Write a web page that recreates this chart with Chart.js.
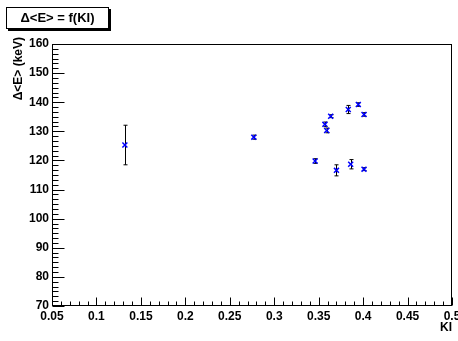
<!DOCTYPE html>
<html>
<head>
<meta charset="utf-8">
<script src="https://cdn.jsdelivr.net/npm/chart.js@4/dist/chart.umd.min.js"></script>
<style>
  html, body { margin: 0; padding: 0; background: #fff; }
  #wrap { width: 458px; height: 341px; position: relative; }
</style>
</head>
<body>
<div id="wrap"><canvas id="c" width="458" height="341"></canvas></div>
<script>
// valeurs
const kiValues = [0.132, 0.277, 0.346, 0.357, 0.359, 0.3635, 0.370, 0.3833, 0.386, 0.3946, 0.401, 0.401];
const deltaE   = [125.3, 128.0, 119.8, 132.4, 130.3, 135.2, 116.6, 137.5, 118.7, 139.2, 135.8, 117.0];
const deltaErr = [6.8,   0.7,   0.8,   0.8,   0.8,   0.5,   1.9,   1.4,   1.6,   0.6,   0.6,   0.5];

const xTicks = [0.05, 0.1, 0.15, 0.2, 0.25, 0.3, 0.35, 0.4, 0.45, 0.5];
const yTicks = [70, 80, 90, 100, 110, 120, 130, 140, 150, 160];

const titleText = 'Δ<E> = f(KI)';
const xTitle = 'KI';
const yTitle = 'Δ<E> (keV)';

const FONT = '"Liberation Sans", Arial, sans-serif';

const points = kiValues.map((x, i) => ({ x, y: deltaE[i] }));

// barres d'erreur, cadre et graduations façon ROOT
const rootStyle = {
  id: 'rootStyle',
  beforeDatasetsDraw(chart) {
    const ctx = chart.ctx;
    const xs = chart.scales.x, ys = chart.scales.y;
    ctx.save();
    ctx.strokeStyle = '#000';
    ctx.lineWidth = 1;
    kiValues.forEach((k, i) => {
      const px = Math.round(xs.getPixelForValue(k)) + 0.5;
      const top = ys.getPixelForValue(deltaE[i] + deltaErr[i]);
      const bot = ys.getPixelForValue(deltaE[i] - deltaErr[i]);
      ctx.beginPath();
      ctx.moveTo(px, top); ctx.lineTo(px, bot);
      ctx.moveTo(px - 2, top); ctx.lineTo(px + 2, top);
      ctx.moveTo(px - 2, bot); ctx.lineTo(px + 2, bot);
      ctx.stroke();
    });
    ctx.restore();
  },
  afterDraw(chart) {
    const ctx = chart.ctx;
    const a = chart.chartArea;
    const xs = chart.scales.x, ys = chart.scales.y;
    ctx.save();
    ctx.strokeStyle = '#000';
    ctx.lineWidth = 1;
    const L = Math.round(a.left) + 0.5, R = Math.round(a.right) - 0.5;
    const T = Math.round(a.top) + 0.5, B = Math.round(a.bottom) - 0.5;
    ctx.strokeRect(L, T, R - L, B - T);

    // graduations X (5 sous-divisions)
    ctx.beginPath();
    for (let i = 0; i < xTicks.length; i++) {
      const px = Math.round(xs.getPixelForValue(xTicks[i])) + 0.5;
      ctx.moveTo(px, B); ctx.lineTo(px, B - 8);
      if (i < xTicks.length - 1) {
        const step = (xTicks[i + 1] - xTicks[i]) / 5;
        for (let j = 1; j < 5; j++) {
          const mx = Math.round(xs.getPixelForValue(xTicks[i] + j * step)) + 0.5;
          ctx.moveTo(mx, B); ctx.lineTo(mx, B - 4);
        }
      }
    }
    // graduations Y (6 sous-divisions)
    for (let i = 0; i < yTicks.length; i++) {
      const py = Math.round(ys.getPixelForValue(yTicks[i])) + 0.5;
      ctx.moveTo(L, py); ctx.lineTo(L + 12, py);
      if (i < yTicks.length - 1) {
        const step = (yTicks[i + 1] - yTicks[i]) / 6;
        for (let j = 1; j < 6; j++) {
          const my = Math.round(ys.getPixelForValue(yTicks[i] + j * step)) + 0.5;
          ctx.moveTo(L, my); ctx.lineTo(L + 6, my);
        }
      }
    }
    ctx.stroke();

    // titres des axes
    ctx.fillStyle = '#000';
    ctx.font = 'bold 12px ' + FONT;
    ctx.textAlign = 'right';
    ctx.textBaseline = 'middle';
    ctx.fillText(xTitle, a.right, 328);
    ctx.save();
    ctx.translate(19, 37);
    ctx.rotate(-Math.PI / 2);
    ctx.textAlign = 'right';
    ctx.fillText(yTitle, 0, 0);
    ctx.restore();

    // boîte de titre avec ombre
    ctx.fillStyle = '#000';
    ctx.fillRect(8, 9, 103, 22);
    ctx.fillStyle = '#fff';
    ctx.fillRect(6, 7, 103, 22);
    ctx.strokeRect(6.5, 7.5, 102, 21);
    ctx.fillStyle = '#000';
    ctx.font = 'bold 13px ' + FONT;
    ctx.textAlign = 'center';
    ctx.fillText(titleText, 57.5, 18.5);
    ctx.restore();
  }
};

const noPad = s => { s.paddingLeft = 0; s.paddingRight = 0; s.paddingTop = 0; s.paddingBottom = 0; };

new Chart(document.getElementById('c'), {
  type: 'scatter',
  data: {
    datasets: [{
      data: points,
      pointStyle: 'crossRot',
      radius: 3.5,
      hoverRadius: 3.5,
      borderColor: '#0000ff',
      backgroundColor: '#0000ff',
      borderWidth: 1.5
    }]
  },
  options: {
    responsive: false,
    animation: false,
    events: [],
    layout: { padding: { top: 44, right: 6, left: 0, bottom: 0 } },
    plugins: { legend: { display: false }, tooltip: { enabled: false } },
    scales: {
      x: {
        type: 'linear', min: 0.05, max: 0.5,
        afterBuildTicks: s => { s.ticks = xTicks.map(v => ({ value: v })); },
        afterFit: s => { s.height = 35; noPad(s); },
        grid: { display: false, drawTicks: false },
        border: { display: false },
        ticks: {
          padding: 3, color: '#000', maxRotation: 0, autoSkip: false,
          font: { family: FONT, size: 12, weight: 'bold' },
          callback: v => String(Number(v.toFixed(2)))
        }
      },
      y: {
        type: 'linear', min: 70, max: 160,
        afterBuildTicks: s => { s.ticks = yTicks.map(v => ({ value: v })); },
        afterFit: s => { s.width = 52; noPad(s); },
        grid: { display: false, drawTicks: false },
        border: { display: false },
        ticks: {
          padding: 3, color: '#000', autoSkip: false,
          font: { family: FONT, size: 12, weight: 'bold' },
          callback: v => String(v)
        }
      }
    }
  },
  plugins: [rootStyle]
});
</script>
</body>
</html>
